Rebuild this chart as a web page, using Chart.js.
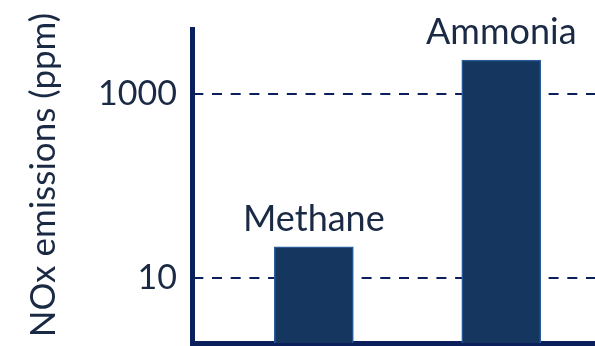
<!DOCTYPE html>
<html lang="en">
<head>
    <meta charset="UTF-8">
    <title>NOx emissions</title>
    <script src="https://cdn.jsdelivr.net/npm/chart.js"></script>
    <style>
        html, body { margin: 0; padding: 0; background: #ffffff; }
        #wrap { width: 595px; height: 346px; }
    </style>
</head>
<body>
    <div id="wrap"><canvas id="noxChart"></canvas></div>
    <script>
        // data
        const fuels = ['Methane', 'Ammonia'];
        const noxPpm = [22, 2300];
        const yTicks = [10, 1000];
        const yTitle = 'NOx emissions (ppm)';

        const navy = '#0b1f5c';
        const barFill = '#15375f';
        const barEdge = '#2a5a98';
        const textCol = '#1b2a44';
        const fontFam = 'Lato, "Open Sans", sans-serif';

        // fuel names above the bars + the rotated axis title
        const extraText = {
            id: 'extraText',
            afterDatasetsDraw(chart) {
                const ctx = chart.ctx;
                const meta = chart.getDatasetMeta(0);
                ctx.save();
                ctx.font = '36px ' + fontFam;
                ctx.fillStyle = textCol;
                ctx.textAlign = 'center';
                ctx.textBaseline = 'alphabetic';
                meta.data.forEach(function(bar, i) {
                    ctx.fillText(fuels[i], bar.x, bar.y - 16);
                });
                // axis title sits a little above the middle of the plot
                ctx.font = '35px ' + fontFam;
                ctx.translate(55, 175);
                ctx.rotate(-Math.PI / 2);
                ctx.fillText(yTitle, 0, 0);
                ctx.restore();
            }
        };

        new Chart(document.getElementById('noxChart'), {
            type: 'bar',
            data: {
                datasets: [{
                    data: fuels.map(function(f, i) { return { x: i + 1, y: noxPpm[i] }; }),
                    backgroundColor: barFill,
                    borderColor: barEdge,
                    borderWidth: 1.5,
                    borderSkipped: 'bottom',
                    barThickness: 79
                }]
            },
            options: {
                responsive: true,
                maintainAspectRatio: false,
                animation: false,
                layout: { padding: { top: 29, right: 0, bottom: 3, left: 0 } },
                plugins: { legend: { display: false }, tooltip: { enabled: false } },
                scales: {
                    x: {
                        type: 'linear',
                        offset: false,
                        min: 0.35,
                        max: 2.5,
                        grid: { display: false, drawTicks: false },
                        border: { display: true, color: navy, width: 5 },
                        ticks: { display: false },
                        afterFit(scale) {
                            scale.height = 0;
                            scale.paddingLeft = 0;
                            scale.paddingRight = 0;
                        }
                    },
                    y: {
                        type: 'logarithmic',
                        min: 2,
                        max: 5000,
                        afterBuildTicks(scale) {
                            scale.ticks = yTicks.map(function(v) { return { value: v }; });
                        },
                        afterFit(scale) {
                            scale.width = 192;
                            scale.paddingTop = 0;
                            scale.paddingBottom = 0;
                        },
                        grid: { color: navy, lineWidth: 2, drawTicks: false },
                        border: { display: true, color: navy, width: 5, dash: [10, 8.7], dashOffset: 1.7 },
                        ticks: {
                            padding: 15,
                            color: textCol,
                            font: { family: fontFam, size: 34 },
                            callback: function(v) { return String(v); }
                        }
                    }
                }
            },
            plugins: [extraText]
        });
    </script>
</body>
</html>
